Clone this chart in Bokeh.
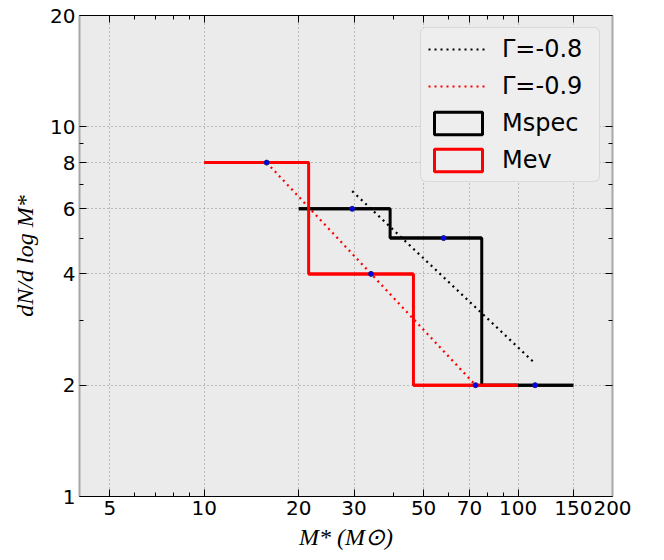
import numpy as np
from bokeh.plotting import figure
from bokeh.models import (LogAxis, FixedTicker, Legend, LegendItem,
                          ColumnDataSource, CustomJSTickFormatter)
from bokeh.embed import file_html
from bokeh.resources import INLINE

# Histogram bins (log-spaced) and counts per bin
mspec_edges = [20.0, 39.1, 76.6, 150.0]
mspec_counts = [6, 5, 2]
mev_edges = [10.0, 21.5, 46.4, 100.0]
mev_counts = [8, 4, 2]

# Bin midpoints used for the power-law fits
mspec_mid = [29.6, 57.9, 113.3]
mev_mid = [15.8, 34.0, 73.2]

# Power-law fit lines (straight on log-log axes)
fit08_x = [29.6, 113.3]
fit08_y = [6.7, 2.29]
fit09_x = [15.8, 73.2]
fit09_y = [8.0, 2.0]

# Axis ticks
x_ticks = [5, 10, 20, 30, 50, 70, 100, 150, 200]
x_tick_labels = ["5", "10", "20", "30", "50", "70", "100", "150", "200"]
x_minor = [4, 6, 7, 8, 9, 40, 60, 80, 90]
y_ticks = [1, 2, 4, 6, 8, 10, 20]
y_tick_labels = ["1", "2", "4", "6", "8", "10", "20"]
y_minor = [3, 5, 7, 9]

BG = "#ebebeb"

p = figure(width=664, height=560, x_axis_type="log", y_axis_type="log",
           x_range=(4, 200), y_range=(1, 20),
           output_backend="svg", toolbar_location=None,
           min_border_left=79, min_border_right=52,
           min_border_top=15, min_border_bottom=64)
p.background_fill_color = BG
p.border_fill_color = "white"
p.outline_line_color = None

xt = FixedTicker(ticks=x_ticks, minor_ticks=x_minor)
yt = FixedTicker(ticks=y_ticks, minor_ticks=y_minor)


def style_axis(ax, ticker, line_color, line_width):
    ax.ticker = ticker
    ax.axis_line_color = line_color
    ax.axis_line_width = line_width
    ax.major_tick_in = 7
    ax.major_tick_out = 0
    ax.minor_tick_in = 4
    ax.minor_tick_out = 0
    ax.major_tick_line_color = "black"
    ax.minor_tick_line_color = "black"
    ax.major_label_text_font = "DejaVu Sans"
    ax.major_label_text_font_size = "20px"
    ax.major_label_text_color = "black"


def style_label(ax, text, standoff):
    ax.axis_label = text
    ax.axis_label_text_font = "Liberation Serif"
    ax.axis_label_text_font_style = "italic"
    ax.axis_label_text_font_size = "24px"
    ax.axis_label_text_color = "black"
    ax.axis_label_standoff = standoff


xa = p.xaxis[0]
style_axis(xa, xt, "black", 1.2)
xa.major_label_overrides = dict(zip(x_ticks, x_tick_labels))
xa.major_label_standoff = 4
style_label(xa, "M* (M\u2299)", 6)

ya = p.yaxis[0]
style_axis(ya, yt, "#a8a8a8", 2)
ya.major_label_overrides = dict(zip(y_ticks, y_tick_labels))
ya.major_label_standoff = 4
style_label(ya, "dN/d log M*", 9)

blank = CustomJSTickFormatter(code="return ''")
top = LogAxis(formatter=blank, major_label_standoff=0)
style_axis(top, FixedTicker(ticks=x_ticks, minor_ticks=x_minor), "black", 1.2)
right = LogAxis(formatter=blank, major_label_standoff=0)
style_axis(right, FixedTicker(ticks=y_ticks, minor_ticks=y_minor), "#a8a8a8", 2)
p.add_layout(top, "above")
p.add_layout(right, "right")

p.grid.grid_line_color = "#8a8a8a"
p.grid.grid_line_dash = "1 3"
p.grid.grid_line_width = 1
p.grid.minor_grid_line_color = None
p.xgrid.ticker = xt
p.ygrid.ticker = yt

# Power-law fits
r08 = p.line(fit08_x, fit08_y, line_color="black", line_width=2.2, line_dash="2 4")
r09 = p.line(fit09_x, fit09_y, line_color="red", line_width=2.2, line_dash="2 4")


def step_outline(edges, counts, color):
    xs = np.repeat(np.asarray(edges, float), 2)[1:-1]
    ys = np.repeat(np.asarray(counts, float), 2)
    p.line(xs, ys, line_color=color, line_width=3)
    src = ColumnDataSource(dict(left=edges[:-1], right=edges[1:],
                                top=counts, bottom=counts))
    return p.quad(left="left", right="right", top="top", bottom="bottom",
                  source=src, fill_alpha=0, line_color=color, line_width=3)


rspec = step_outline(mspec_edges, mspec_counts, "black")
rev = step_outline(mev_edges, mev_counts, "red")

# Bin midpoints
p.scatter(mspec_mid, mspec_counts, size=5, fill_color="blue", line_color="#1a1a80")
p.scatter(mev_mid, mev_counts, size=5, fill_color="blue", line_color="#1a1a80")

legend = Legend(items=[
    LegendItem(label="\u0393=-0.8", renderers=[r08]),
    LegendItem(label="\u0393=-0.9", renderers=[r09]),
    LegendItem(label="Mspec", renderers=[rspec]),
    LegendItem(label="Mev", renderers=[rev]),
], location="top_right")
legend.margin = 12
legend.padding = 7
legend.spacing = 9
legend.glyph_width = 60
legend.glyph_height = 28
legend.label_height = 28
legend.label_width = 90
legend.label_standoff = 14
legend.label_text_font = "DejaVu Sans"
legend.label_text_font_size = "24px"
legend.label_text_color = "black"
legend.background_fill_color = "#eeeeee"
legend.background_fill_alpha = 1
legend.border_line_color = "#c4c4c4"
legend.border_line_width = 1.5
if "border_radius" in Legend.properties():
    legend.border_radius = 6
p.add_layout(legend)

open("out.html", "w").write(file_html(p, INLINE))
